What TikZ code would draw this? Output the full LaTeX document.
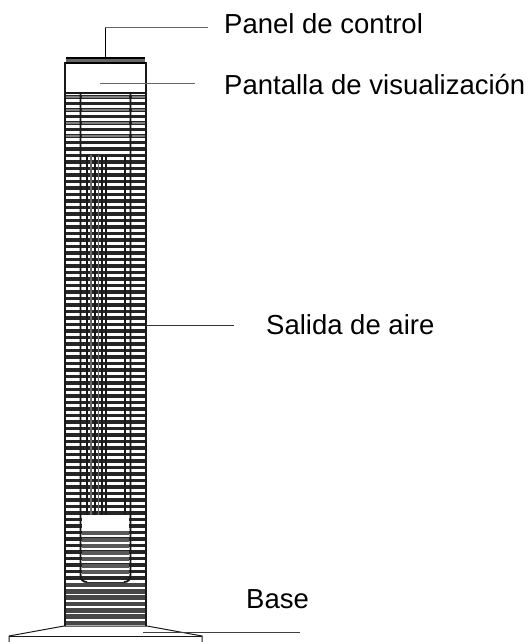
\documentclass[tikz,border=0pt]{standalone}
\usepackage{fontspec}
\setmainfont{Liberation Sans}
\tikzset{
 lbl/.style={anchor=west,inner sep=0pt,font=\fontsize{27.5}{30}\selectfont,text=black},
 leader/.style={draw=black!60,line width=1pt},
 outline/.style={draw=black!90,line width=1.9pt},
 slat/.style={draw=black!85,line width=3.5pt},
 slatlow/.style={draw=black!72,line width=4.6pt},
 slatgray/.style={draw=black!50,line width=2.6pt},
 grillev/.style={draw=black!90,line width=1.7pt}
}
\begin{document}
\begin{tikzpicture}[x=1pt,y=-1pt]
\useasboundingbox (0,0) rectangle (530,642);
\fill[white] (0,0) rectangle (530,642);
% labels
\node[lbl] (panel) at (224,24) {Panel de control};
\node[lbl] (pantalla) at (224,85) {Pantalla de visualización};
\node[lbl] (salida) at (266,325) {Salida de aire};
\node[lbl] (base) at (246,599) {Base};
% slats of the body
\foreach \y in {97,103.5,...,585} {\draw[slat] (65,\y) -- (146,\y);}
\foreach \y in {585,591.3,...,626} {\draw[slatlow] (65,\y) -- (146,\y);}
% grey slats in the upper band and under the window
\foreach \y in {97,110,123,136} {\draw[slatgray] (82,\y) -- (129,\y);}
\foreach \y in {97,110,123,136} {\draw[slatgray] (65,\y) -- (80,\y) (132,\y) -- (146,\y);}
\foreach \y in {533,539.5,...,578} {\draw[draw=black!65,line width=4pt] (82,\y) -- (129,\y);}
% grille
\foreach \x in {87,95,102,106,125} {\draw[grillev] (\x,155) -- (\x,515);}
\foreach \x in {91,98.5} {\draw[draw=black!60,line width=1.2pt] (\x,155) -- (\x,515);}
% window
\fill[white] (82,515) rectangle (129,530);
% inner U
\draw[outline] (80.5,93) -- (80.5,574) .. controls (80.5,580) and (83,582) .. (87,582);
\draw[outline] (124,582) .. controls (128,582) and (130.5,580) .. (130.5,574) -- (130.5,93);
\draw[draw=black!80,line width=1pt] (87,582) -- (124,582);
% panels
\draw[outline,fill=white] (65,63) rectangle (146,93);
\fill[black!60] (66,58) rectangle (145,63);
\draw[draw=black,line width=1.2pt] (66,58) -- (145,58);
\draw[draw=black,line width=2pt] (65,63) -- (146,63);
\draw[outline] (65,63) -- (65,626) (146,63) -- (146,626);
% base
\draw[draw=black!90,line width=1pt,fill=white] (9,642) -- (9,636) -- (64,626) -- (147,626) -- (202,636) -- (202,642);
\draw[draw=black!90,line width=1pt] (9,636) -- (202,636);
% leaders
\coordinate (pa) at (105,58);
\coordinate (pb) at (105,27.5);
\coordinate (pc) at (208,27.5);
\draw[draw=black,line width=.8pt] (pa) -- (pb);
\draw[leader] (pb) -- (pc);
\coordinate (va) at (100,83);
\coordinate (vb) at (195,83);
\draw[leader] (va) -- (vb);
\coordinate (sa) at (146,325);
\coordinate (sb) at (234,325);
\draw[draw=black!80,line width=.8pt] (sa) -- (sb);
\coordinate (ba) at (143,632);
\coordinate (bb) at (300,632);
\draw[draw=black!75,line width=.8pt] (ba) -- (bb);
\end{tikzpicture}
\end{document}
